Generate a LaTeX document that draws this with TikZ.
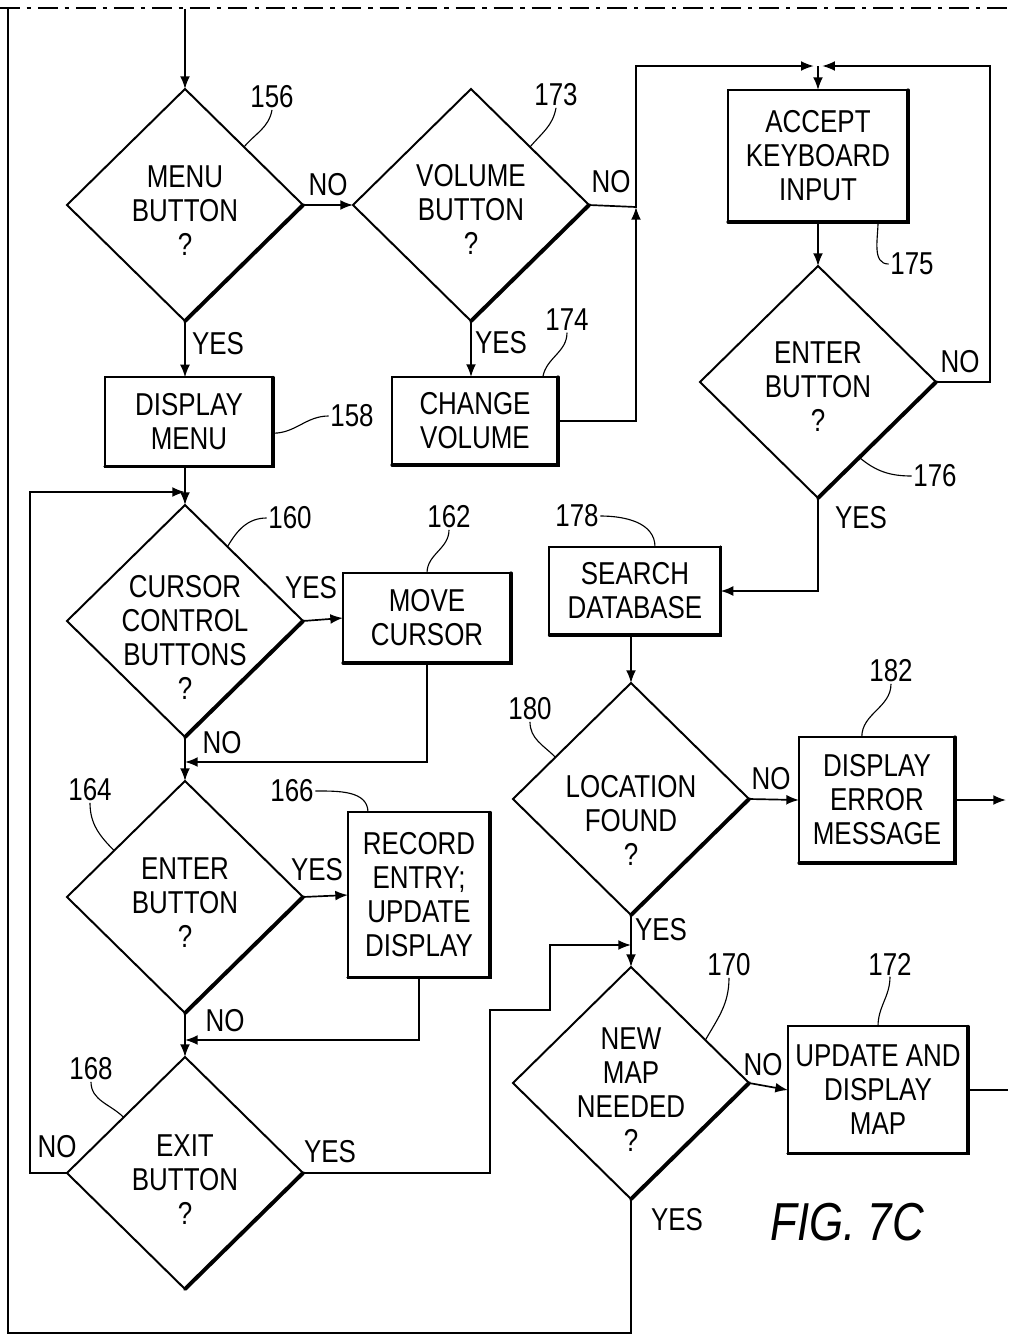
\documentclass[tikz,border=0pt]{standalone}
\usepackage{fontspec}
\setmainfont{Liberation Sans}[FakeStretch=0.82]
\usetikzlibrary{shapes.geometric,arrows.meta,calc}

\newcommand{\flowfont}{\fontsize{22.5}{24.2}\selectfont}
\tikzset{
  decide/.style={draw, shape=diamond, line width=1.4pt, minimum width=5.9cm, minimum height=5.8cm, inner sep=0pt, outer sep=0pt},
  stepbox/.style={draw, line width=1.4pt, align=center, inner sep=2pt, outer sep=0pt, font=\flowfont},
  txt/.style={align=center, inner sep=0pt, font=\flowfont},
  refno/.style={inner sep=1pt, font=\flowfont},
  arr/.style={line width=1.2pt, -{Latex[length=9pt,width=7pt]}},
  link/.style={line width=1.2pt},
  lead/.style={line width=0.8pt},
  heavy/.style={line width=2.8pt, line cap=round},
  heavyb/.style={line width=2.2pt, line cap=round},
}

\begin{document}
\begin{tikzpicture}[x=0.025cm, y=-0.025cm]
\useasboundingbox (0,0) rectangle (1008,1336);

% frame of the sheet
\draw[line width=1.4pt, dash pattern=on 14pt off 5pt on 3pt off 5pt] (0,8) -- (1008,8);
\coordinate (tl) at (8,9);
\coordinate (bl) at (8,1333);
\coordinate (top) at (185,9);

% decisions
\node[decide] (menu) at (185,205) {};
\node[txt] (menut) at (185,211) {MENU\\BUTTON\\?};
\node[decide] (volume) at (471,205) {};
\node[txt] (volumet) at (471,209) {VOLUME\\BUTTON\\?};
\node[decide] (enterk) at (818,382) {};
\node[txt] (enterkt) at (818,387) {ENTER\\BUTTON\\?};
\node[decide] (cursq) at (185,621) {};
\node[txt] (cursqt) at (185,637) {CURSOR\\CONTROL\\BUTTONS\\?};
\node[decide] (enterq) at (185,897) {};
\node[txt] (enterqt) at (185,903) {ENTER\\BUTTON\\?};
\node[decide] (exitq) at (185,1173) {};
\node[txt] (exitqt) at (185,1180) {EXIT\\BUTTON\\?};
\node[decide] (locq) at (631,799) {};
\node[txt] (locqt) at (631,820) {LOCATION\\FOUND\\?};
\node[decide] (mapq) at (631,1083) {};
\node[txt] (mapqt) at (631,1090) {NEW\\MAP\\NEEDED\\?};

% steps
\node[stepbox, minimum width=4.5cm, minimum height=3.3cm] (accept) at (818,156) {ACCEPT\\KEYBOARD\\INPUT};
\node[stepbox, minimum width=4.2cm, minimum height=2.23cm] (dmenu) at (189,422) {DISPLAY\\MENU};
\node[stepbox, minimum width=4.15cm, minimum height=2.2cm] (chvol) at (475,421) {CHANGE\\VOLUME};
\node[stepbox, minimum width=4.2cm, minimum height=2.25cm] (movebox) at (427,618) {MOVE\\CURSOR};
\node[stepbox, minimum width=4.28cm, minimum height=2.2cm] (search) at (635,591) {SEARCH\\DATABASE};
\node[stepbox, minimum width=3.9cm, minimum height=3.15cm] (errbox) at (877,800) {DISPLAY\\ERROR\\MESSAGE};
\node[stepbox, minimum width=3.55cm, minimum height=4.13cm] (recbox) at (419,895) {RECORD\\ENTRY;\\UPDATE\\DISPLAY};
\node[stepbox, minimum width=4.5cm, minimum height=3.18cm] (updbox) at (878,1090) {UPDATE AND\\DISPLAY\\MAP};

% heavy lower edges
\foreach \d in {menu,volume,enterk,cursq,enterq,exitq,locq,mapq}
  \draw[heavy] (\d.east) -- (\d.south);
\foreach \b in {accept,dmenu,chvol,movebox,search,errbox,recbox,updbox}
  \draw[heavyb] (\b.north east) -- (\b.south east) -- (\b.south west);

% junction points
\coordinate (vj) at (636,207);
\coordinate (kin) at (818,66);
\coordinate (loopin) at (185,492);
\coordinate (movein) at (185,762);
\coordinate (recin) at (185,1040);
\coordinate (mapin) at (631,945);
\coordinate (errout) at (1006,800);
\coordinate (updout) at (1008,1090);

% connectors
\draw[arr] (top) -- (menu.north);
\draw[arr] (menu.east) -- (volume.west);
\draw[arr] (menu.south) -- (menu.south |- dmenu.north);
\draw[arr] (volume.south) -- (volume.south |- chvol.north);
\draw[arr] (volume.east) -- (vj) |- ([xshift=-3pt]kin);
\draw[arr] (chvol.east) -| (vj);
\draw[arr] (enterk.east) -- (990,382) |- ([xshift=3pt]kin);
\draw[arr] (kin) -- (accept.north);
\draw[arr] (accept.south) -- (enterk.north);
\draw[arr] (enterk.south) |- (search.east);
\draw[arr] (locq.north |- search.south) -- (locq.north);
\draw[arr] (locq.east) -- (errbox.west);
\draw[arr] (errbox.east) -- (errout);
\draw[arr] (locq.south) -- (mapq.north);
\draw[arr] (mapq.east) -- (updbox.west);
\draw[link] (updbox.east) -- (updout);
\draw[link] (mapq.south) |- (bl) -- (tl);
\draw[arr] (cursq.north |- dmenu.south) -- (cursq.north);
\draw[arr] (exitq.west) -- (30,1173) |- (loopin);
\draw[arr] (cursq.east) -- (movebox.west);
\draw[arr] (cursq.south) -- (enterq.north);
\draw[arr] (movebox.south) |- (movein);
\draw[arr] (enterq.east) -- (recbox.west);
\draw[arr] (enterq.south) -- (exitq.north);
\draw[arr] (recbox.south) |- (recin);
\draw[arr] (exitq.east) -| (490,1010) -- (550,1010) |- (mapin);

% yes / no
\node[refno] (no1) at (328,185) {NO};
\node[refno] (yes1) at (218,344) {YES};
\node[refno] (yes2) at (501,343) {YES};
\node[refno] (no2) at (611,182) {NO};
\node[refno] (no3) at (960,362) {NO};
\node[refno] (yes3) at (861,518) {YES};
\node[refno] (yes4) at (311,588) {YES};
\node[refno] (no4) at (222,743) {NO};
\node[refno] (yes5) at (317,870) {YES};
\node[refno] (no5) at (225,1021) {NO};
\node[refno] (no6) at (57,1147) {NO};
\node[refno] (yes6) at (330,1152) {YES};
\node[refno] (no7) at (771,779) {NO};
\node[refno] (yes7) at (661,930) {YES};
\node[refno] (no8) at (763,1065) {NO};
\node[refno] (yes8) at (677,1220) {YES};

% reference numerals
\node[refno] (n156) at (272,97) {156};
\node[refno] (n173) at (556,95) {173};
\node[refno] (n174) at (567,320) {174};
\node[refno] (n158) at (352,416) {158};
\node[refno] (n175) at (912,264) {175};
\node[refno] (n176) at (935,476) {176};
\node[refno] (n160) at (290,518) {160};
\node[refno] (n162) at (449,517) {162};
\node[refno] (n164) at (90,790) {164};
\node[refno] (n166) at (292,791) {166};
\node[refno] (n168) at (91,1069) {168};
\node[refno] (n170) at (729,965) {170};
\node[refno] (n172) at (890,964) {172};
\node[refno] (n178) at (577,516) {178};
\node[refno] (n180) at (530,709) {180};
\node[refno] (n182) at (891,671) {182};

\draw[lead] (n156.south) to[out=-100,in=50] (menu.north east);
\draw[lead] (n173.south) to[out=-100,in=50] (volume.north east);
\draw[lead] (n174.south) to[out=-90,in=80] ([xshift=-0.38cm]chvol.north east);
\draw[lead] ([yshift=-0.28cm]dmenu.east) to[out=0,in=180] (n158.west);
\draw[lead] ([xshift=1.5cm]accept.south) to[out=-90,in=180] (n175.west);
\draw[lead] ($(enterk.east)!0.65!(enterk.south)$) to[out=-40,in=180] (n176.west);
\draw[lead] ($(cursq.north)!0.36!(cursq.east)$) to[out=60,in=180] (n160.west);
\draw[lead] (movebox.north) to[out=90,in=-90] (n162.south);
\draw[lead] (n164.south) to[out=-90,in=135] ($(enterq.north)!0.6!(enterq.west)$);
\draw[lead] (n166.east) to[out=0,in=90] ([xshift=0.5cm]recbox.north west);
\draw[lead] (n168.south) to[out=-90,in=135] ($(exitq.north)!0.52!(exitq.west)$);
\draw[lead] (n170.south) to[out=-90,in=60] ($(mapq.north)!0.63!(mapq.east)$);
\draw[lead] (n172.south) to[out=-90,in=90] (updbox.north);
\draw[lead] (n178.east) to[out=0,in=90] ([xshift=0.5cm]search.north);
\draw[lead] (n180.south) to[out=-90,in=135] ($(locq.north)!0.64!(locq.west)$);
\draw[lead] (n182.south) to[out=-90,in=90] ([xshift=-0.38cm]errbox.north);

\node[font=\fontsize{38}{40}\selectfont\itshape] (fig) at (847,1222) {FIG. 7C};
\end{tikzpicture}
\end{document}
